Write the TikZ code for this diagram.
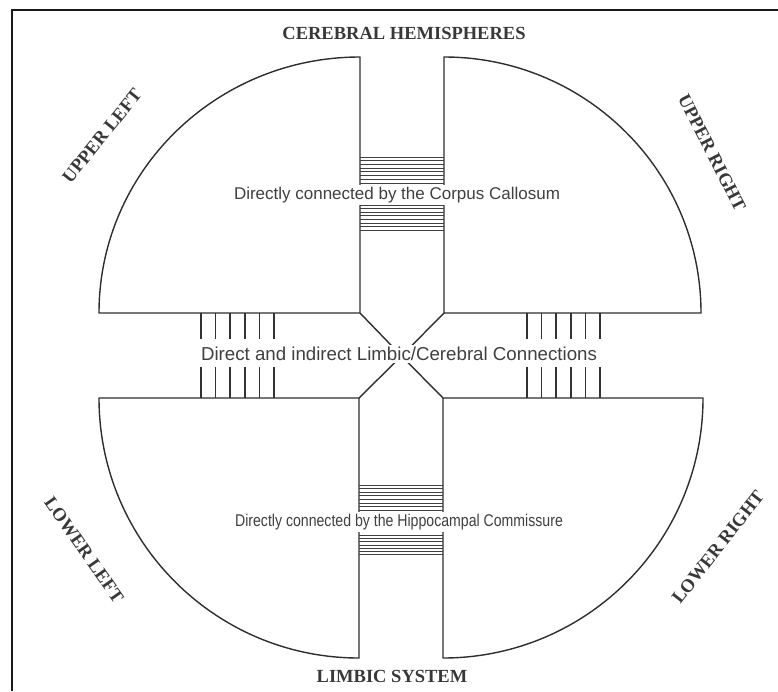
\documentclass[tikz,border=0pt]{standalone}
\usepackage{fontspec}
\setmainfont{Liberation Serif}
\newfontfamily\sansf{Liberation Sans}
\begin{document}
\begin{tikzpicture}[x=1pt,y=-1pt,
  wall/.style={draw=black!82,line width=1.4pt,line join=round},
  hatch/.style={draw=black!75,line width=0.8pt},
  bar/.style={draw=black!80,line width=1.5pt},
  region/.style={font=\bfseries\fontsize{18.5}{18.5}\selectfont,text=black!78,inner sep=0pt},
  heading/.style={font=\bfseries\fontsize{18.5}{18.5}\selectfont,text=black!78,inner sep=0pt},
  caption/.style={font=\sansf\fontsize{17}{17}\selectfont,text=black!75,fill=white,inner sep=2pt}]
\useasboundingbox (0,0) rectangle (778,691);

% partial frame
\draw[line width=2.6pt,black!90] (12,691) -- (12,10) -- (778,10);

% the four quadrants
\draw[wall] (360,57) arc[start angle=-90,end angle=-180,x radius=261,y radius=256] -- (360,313) -- cycle;
\draw[wall] (444,57) arc[start angle=-90,end angle=0,x radius=257,y radius=256] -- (444,313) -- cycle;
\draw[wall] (359,398) -- (99,398) arc[start angle=180,end angle=90,x radius=260,y radius=260] -- cycle;
\draw[wall] (443,398) -- (703,398) arc[start angle=0,end angle=90,x radius=260,y radius=260] -- cycle;

% diagonals toward the crossing
\coordinate (X) at (401.5,356);
\draw[wall] (360,313) -- (X) -- (443,398);
\draw[wall] (444,313) -- (X) -- (359,398);

% corpus callosum fibres
\foreach \i in {0,...,7} {
  \draw[hatch] (360,{157+\i*3.7}) -- (444,{157+\i*3.7});
  \draw[hatch] (360,{205+\i*3.6}) -- (444,{205+\i*3.6});
}
% hippocampal commissure fibres
\foreach \i in {0,...,7} {
  \draw[hatch] (359,{485+\i*3.6}) -- (443,{485+\i*3.6});
}
\foreach \i in {0,...,6} {
  \draw[hatch] (359,{535+\i*3.3}) -- (443,{535+\i*3.3});
}

% limbic/cerebral fibres on both sides
\foreach \i in {0,...,5} {
  \draw[bar] ({201+\i*14.6},313) -- ({201+\i*14.6},339);
  \draw[bar] ({201+\i*14.6},367) -- ({201+\i*14.6},398);
  \draw[bar] ({527+\i*14.6},313) -- ({527+\i*14.6},339);
  \draw[bar] ({527+\i*14.6},367) -- ({527+\i*14.6},398);
}

% captions
\node[caption] (cc) at (397,195) {Directly connected by the Corpus Callosum};
\node[caption,font=\sansf\fontsize{18.7}{18.7}\selectfont] (lc) at (399,354) {Direct and indirect Limbic/Cerebral Connections};
\node[caption,xscale=0.83] (hc) at (399,522) {Directly connected by the Hippocampal Commissure};

% headings
\node[heading] (top) at (404,33) {CEREBRAL HEMISPHERES};
\node[heading] (bot) at (392,676) {LIMBIC SYSTEM};

% region labels
\node[region,rotate=51] (ul) at (102,136) {UPPER LEFT};
\node[region,rotate=-63] (ur) at (712,153) {UPPER RIGHT};
\node[region,rotate=-55] (ll) at (84,550) {LOWER LEFT};
\node[region,rotate=52] (lr) at (718,547) {LOWER RIGHT};
\end{tikzpicture}
\end{document}
